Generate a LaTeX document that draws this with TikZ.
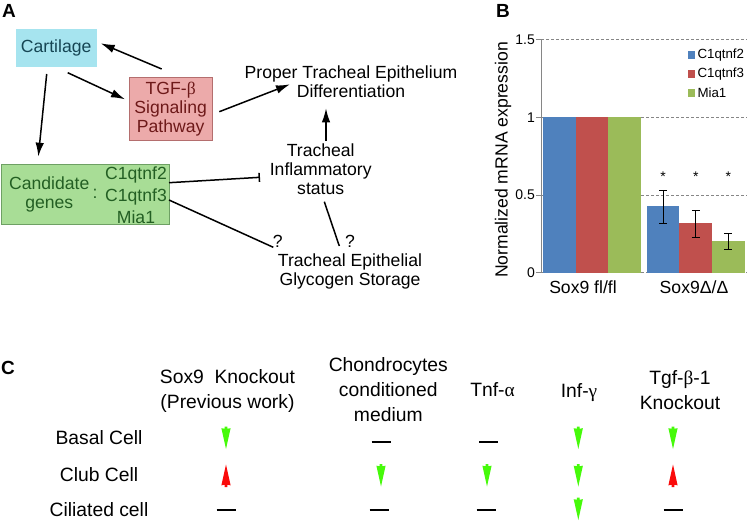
\documentclass[tikz,border=0pt]{standalone}
\usepackage{fontspec}
\setmainfont{Liberation Sans}
\newfontfamily\grk{Liberation Serif}
\usetikzlibrary{arrows.meta,calc}
\definecolor{cartc}{RGB}{166,228,239}
\definecolor{cartt}{RGB}{22,70,84}
\definecolor{tgfc}{RGB}{236,170,170}
\definecolor{tgfd}{RGB}{180,110,110}
\definecolor{tgft}{RGB}{110,25,25}
\definecolor{candc}{RGB}{168,221,150}
\definecolor{candd}{RGB}{110,160,100}
\definecolor{candt}{RGB}{35,95,35}
\definecolor{bluec}{RGB}{79,129,189}
\definecolor{redc}{RGB}{192,80,77}
\definecolor{grnc}{RGB}{155,187,89}
\definecolor{gridc}{RGB}{134,134,134}
\definecolor{dnc}{RGB}{70,250,10}
\definecolor{upc}{RGB}{250,10,10}

\begin{document}
\begin{tikzpicture}[x=1pt,y=-1pt,
  txt/.style={font=\fontsize{17.6}{19}\selectfont,align=center,inner sep=0pt},
  ctxt/.style={font=\fontsize{19.3}{25}\selectfont,align=center,inner sep=0pt},
  panel/.style={font=\fontsize{19}{19}\selectfont\bfseries,inner sep=0pt},
  arr/.style={line width=1.5pt,-{Latex[length=14pt,width=8.5pt]}},
  nochg/.style={line width=2pt}]
\useasboundingbox (0,0) rectangle (750,523);

%================= A: the pathway =================
\node[panel] (la) at (9,10.5) {A};

\node[txt,fill=cartc,text=cartt,minimum width=81pt,minimum height=38pt] (cart) at (56.2,48.3) {Cartilage};
\node[txt,fill=tgfc,draw=tgfd,line width=0.6pt,text=tgft,minimum width=82.7pt,minimum height=62.7pt]
  (tgf) at (170.7,108.7) {TGF-{\grk β}\\Signaling\\Pathway};
\node[fill=candc,draw=candd,line width=0.6pt,minimum width=167.3pt,minimum height=60pt,inner sep=0pt]
  (cand) at (85.3,194) {};
\node[txt,text=candt] (candl) at (49.3,194.3) {Candidate\\genes};
\node[txt,text=candt] (colon) at (95,194) {:};
\node[txt,text=candt,font=\fontsize{17.6}{22}\selectfont] (genes) at (136,195.3) {C1qtnf2\\C1qtnf3\\Mia1};

\node[txt] (prop) at (351,82.2) {Proper Tracheal Epithelium\\Differentiation};
\node[txt] (infl) at (320.7,168.8) {Tracheal\\Inflammatory\\status};
\node[txt] (glyc) at (350,271) {Tracheal Epithelial\\Glycogen Storage};
\node[txt] (q1) at (277.7,241.7) {?};
\node[txt] (q2) at (350,241) {?};

% --- connectors
\draw[arr] ($(tgf)+(-9,-39.7)$) -- ($(cart)+(44.5,-5)$);
\draw[arr] ($(cart)+(11.5,24.4)$) -- ($(tgf)+(-45.7,-9.4)$);
\draw[arr] ($(cart)+(-9.5,25.7)$) -- ($(cand)+(-47,-37.3)$);
\draw[arr] ($(tgf)+(48.6,3)$) -- ($(prop)+(-61,2.1)$);
\draw[arr] ($(infl)+(5.3,-27.8)$) -- ($(prop)+(-25,26.1)$);
\draw[line width=1.5pt,-{Bar[width=9pt,line width=1.5pt]}] ($(cand)+(83.7,-11.3)$) -- ($(infl)+(-60.7,8.5)$);
\draw[line width=1.5pt] ($(cand)+(83.7,6)$) -- ($(q1)+(-4.4,5.6)$);
\draw[line width=1.5pt] ($(infl)+(3.6,32.9)$) -- ($(q2)+(-10.7,5)$);

%================= B: the qPCR chart =================
\node[panel] (lb) at (503,11) {B};
\node[txt,rotate=90] (ylab) at (503,160) {Normalized mRNA expression};

\begin{scope}[shift={(541,272.7)},y=155.3pt]
\foreach \v in {0,0.5,1,1.5}{
  \draw[gridc,line width=0.6pt,dash pattern=on 3pt off 2pt] (0,\v) -- (206,\v);
  \draw[gridc,line width=0.6pt] (-5,\v) -- (0,\v);}
\draw[gridc,line width=0.8pt] (0,0) -- (0,1.5);
\foreach \v/\t [count=\i] in {0/0,0.5/0.5,1/1,1.5/1.5}
  \node[anchor=east,inner sep=0pt,font=\fontsize{14}{14}\selectfont] (tk\i) at (-6,\v) {\t};

\foreach \x/\h/\c in {2/1/bluec,34.7/1/redc,67.4/1/grnc,105.7/0.43/bluec,138.4/0.32/redc,171.1/0.205/grnc}
  \fill[\c] (\x,0) rectangle ++(32.7,\h);

\foreach \x/\lo/\hi [count=\i] in {122.05/0.32/0.53,154.75/0.23/0.40,187.45/0.15/0.25}{
  \draw[line width=0.8pt] (\x,\lo) -- (\x,\hi);
  \draw[line width=0.8pt] (\x-4,\lo) -- (\x+4,\lo);
  \draw[line width=0.8pt] (\x-4,\hi) -- (\x+4,\hi);
  \node[inner sep=0pt,font=\fontsize{14}{14}\selectfont] (st\i) at (\x,0.62) {*};}
\end{scope}

\foreach \c/\t/\yy [count=\i] in {bluec/C1qtnf2/55,redc/C1qtnf3/74,grnc/Mia1/93}{
  \fill[\c] (687.7,\yy-3.75) rectangle ++(7.5,7.5);
  \node[anchor=west,inner sep=0pt,font=\fontsize{13.3}{14}\selectfont] (lg\i) at (697.3,\yy) {\t};}

\node[txt] (g1) at (583,287) {Sox9 fl/fl};
\node[txt] (g2) at (694,287) {Sox9Δ/Δ};

%================= C: the cell-type table =================
\node[panel] (lc) at (8,368) {C};

\node[ctxt] (h1) at (227.5,390.7) {Sox9~ Knockout\\(Previous work)};
\node[ctxt] (h2) at (388.3,390) {Chondrocytes\\conditioned\\medium};
\node[ctxt] (h3) at (492.5,390) {Tnf-{\grk α}};
\node[ctxt] (h4) at (579,392.7) {Inf-{\grk γ}};
\node[ctxt] (h5) at (680,390.5) {Tgf-{\grk β}-1\\Knockout};

\node[ctxt] (r1) at (99,438) {Basal Cell};
\node[ctxt] (r2) at (99,475) {Club Cell};
\node[ctxt] (r3) at (99,510) {Ciliated cell};

% green: down, red: up, bar: no change
\foreach \x/\y in {226/438,578.3/438,673/438,381/475.5,487/475.5,578.3/475.5,578.3/509}
  \fill[dnc] (\x-1.4,\y-11.5) -- (\x+1.4,\y-11.5) -- (\x+1.4,\y-9.3) -- (\x+4.6,\y-9.8)
    -- (\x,\y+11) -- (\x-4.6,\y-9.8) -- (\x-1.4,\y-9.3) -- cycle;
\foreach \x/\y in {226/475.5,673/475.5}
  \fill[upc] (\x-1.4,\y+11.5) -- (\x+1.4,\y+11.5) -- (\x+1.4,\y+9.3) -- (\x+4.6,\y+9.8)
    -- (\x,\y-11) -- (\x-4.6,\y+9.8) -- (\x-1.4,\y+9.3) -- cycle;
\foreach \x/\y in {381/441.7,488.6/441.7,226/510,379/510,486/510,673/510}
  \draw[nochg] (\x-9.5,\y) -- (\x+9.5,\y);
\end{tikzpicture}
\end{document}
